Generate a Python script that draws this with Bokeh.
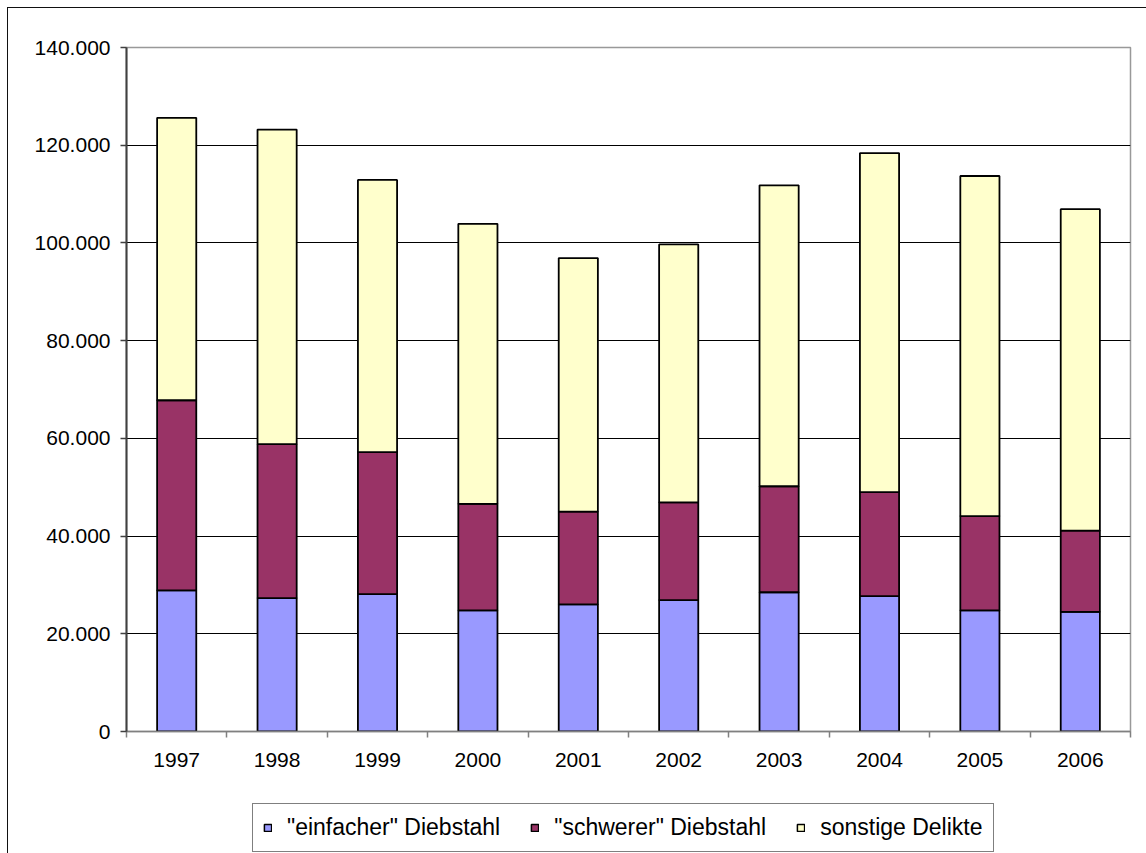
from bokeh.plotting import figure
from bokeh.layouts import column
from bokeh.models import ColumnDataSource, Range1d, FixedTicker
from bokeh.embed import file_html
from bokeh.resources import INLINE

years = ["1997", "1998", "1999", "2000", "2001", "2002", "2003", "2004", "2005", "2006"]
einfacher = [28900, 27300, 28100, 24800, 26000, 26900, 28500, 27700, 24800, 24500]
schwerer = [38900, 31500, 29100, 21800, 19000, 20000, 21700, 21300, 19300, 16600]
sonstige = [57800, 64400, 55700, 57300, 51900, 52800, 61600, 69400, 69600, 65800]
series_names = ['"einfacher" Diebstahl', '"schwerer" Diebstahl', 'sonstige Delikte']
series_colors = ["#9999FF", "#993366", "#FFFFCC"]
y_ticks = [0, 20000, 40000, 60000, 80000, 100000, 120000, 140000]

FONT = "Liberation Sans"

xs = [i + 1 for i in range(len(years))]
source = ColumnDataSource(dict(x=xs, a=einfacher, b=schwerer, c=sonstige))

p = figure(width=1138, height=782, output_backend="svg", toolbar_location=None,
           x_range=Range1d(0.5, len(years) + 0.5), y_range=Range1d(0, y_ticks[-1]),
           min_border_left=118, min_border_right=16, min_border_top=39, min_border_bottom=59)

p.vbar_stack(["a", "b", "c"], x="x", width=0.39, source=source, color=series_colors,
             line_color="black", line_width=1.8)

p.background_fill_color = "white"
p.border_fill_color = "white"
p.outline_line_color = "#999999"
p.outline_line_width = 1.5

# y axis
p.yaxis.ticker = FixedTicker(ticks=y_ticks)
p.yaxis.major_label_overrides = {t: f"{t:,}".replace(",", ".") for t in y_ticks}
p.yaxis.major_label_text_font = FONT
p.yaxis.major_label_text_font_size = "21px"
p.yaxis.major_label_text_color = "black"
p.yaxis.major_tick_out = 6
p.yaxis.major_tick_in = 0
p.yaxis.major_tick_line_color = "#404040"
p.yaxis.major_tick_line_width = 1.5
p.yaxis.minor_tick_line_color = None
p.yaxis.axis_line_color = "#404040"
p.yaxis.axis_line_width = 2
p.yaxis.major_label_standoff = 10

# x axis: labels at the categories, ticks between them
p.xaxis.ticker = FixedTicker(ticks=xs, minor_ticks=[x - 0.5 for x in xs] + [xs[-1] + 0.5])
p.xaxis.major_label_overrides = {x: y for x, y in zip(xs, years)}
p.xaxis.major_label_text_font = FONT
p.xaxis.major_label_text_font_size = "21px"
p.xaxis.major_label_text_color = "black"
p.xaxis.major_tick_line_color = None
p.xaxis.major_tick_out = 0
p.xaxis.major_tick_in = 0
p.xaxis.minor_tick_out = 6
p.xaxis.minor_tick_in = 0
p.xaxis.minor_tick_line_color = "#808080"
p.xaxis.minor_tick_line_width = 1.5
p.xaxis.axis_line_color = "#808080"
p.xaxis.axis_line_width = 1.5
p.xaxis.major_label_standoff = 15

p.xgrid.grid_line_color = None
p.ygrid.grid_line_color = "black"
p.ygrid.grid_line_width = 1

# legend strip: hidden proxy bars only provide the legend keys
p2 = figure(width=1138, height=63, output_backend="svg", toolbar_location=None,
            x_axis_type=None, y_axis_type=None,
            x_range=Range1d(-3, -2), y_range=Range1d(0, 1),
            min_border_left=0, min_border_right=0, min_border_top=0, min_border_bottom=0)
p2.outline_line_color = None
p2.border_fill_color = "white"
p2.background_fill_color = "white"
for name, col, field in zip(series_names, series_colors, ["a", "b", "c"]):
    r = p2.vbar(x="x", top=field, width=0.39, source=source, fill_color=col,
                line_color="black", line_width=1.5, legend_label=name)
    r.visible = False

lg = p2.legend[0]
lg.orientation = "horizontal"
lg.location = (126, 1)
lg.margin = 0
lg.padding = 10
lg.spacing = 30
lg.label_standoff = 15
lg.glyph_width = 9
lg.glyph_height = 9
lg.label_text_font = FONT
lg.label_text_font_size = "23px"
lg.label_text_color = "black"
lg.border_line_color = "black"
lg.border_line_width = 1
lg.background_fill_color = "white"
lg.background_fill_alpha = 1.0
lg.inactive_fill_alpha = 0.0

layout = column(p, p2, spacing=0)
layout.styles = {"border-left": "1px solid #111111", "border-top": "1px solid #111111",
                 "margin-left": "7px", "margin-top": "7px"}

open("out.html", "w").write(file_html(layout, INLINE))
